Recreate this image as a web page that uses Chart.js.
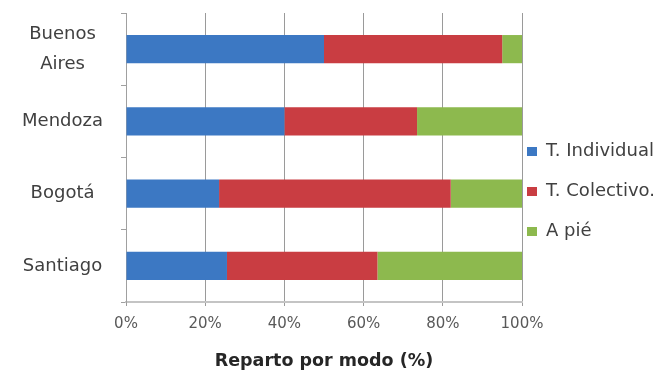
<!DOCTYPE html>
<html>
<head>
<meta charset="utf-8">
<script src="https://cdn.jsdelivr.net/npm/chart.js@4/dist/chart.umd.min.js"></script>
<style>
  html, body { margin: 0; padding: 0; background: #ffffff; }
  #wrap { width: 665px; height: 372px; position: relative; }
</style>
</head>
<body>
<div id="wrap"><canvas id="c"></canvas></div>
<script>
// ---- data ----
const categories = [['Buenos', 'Aires'], 'Mendoza', 'Bogotá', 'Santiago'];
const seriesNames = ['T. Individual', 'T. Colectivo.', 'A pié'];
const individual = [50, 40, 23.5, 25.5];
const colectivo = [45, 33.5, 58.5, 38];
const aPie = [5, 26.5, 18, 36.5];
const xTicks = [0, 20, 40, 60, 80, 100];
const axisTitle = 'Reparto por modo (%)';

const colors = ['#3C78C3', '#C93D42', '#8DB94E'];
const seriesValues = [individual, colectivo, aPie];

const legendShift = {
  id: 'legendShift',
  afterLayout(chart) {
    const l = chart.legend;
    if (!l) return;
    l.left -= 17;
    l.top -= 1; l.bottom -= 1;
  }
};

new Chart(document.getElementById('c'), {
  type: 'bar',
  data: {
    labels: categories,
    datasets: seriesNames.map((name, i) => ({
      label: name,
      data: seriesValues[i],
      backgroundColor: colors[i],
      borderWidth: 0,
      barPercentage: 0.39,
      categoryPercentage: 1
    }))
  },
  options: {
    indexAxis: 'y',
    responsive: true,
    maintainAspectRatio: false,
    animation: false,
    layout: { padding: { top: 13, left: 0, right: 0, bottom: 0 } },
    plugins: {
      legend: {
        position: 'right',
        maxWidth: 143,
        labels: {
          boxWidth: 10,
          boxHeight: 9,
          padding: 22,
          color: '#404040',
          font: { family: 'DejaVu Sans', size: 18 }
        }
      },
      tooltip: { enabled: false }
    },
    scales: {
      x: {
        stacked: true,
        min: 0,
        max: 100,
        afterBuildTicks(scale) { scale.ticks = xTicks.map(v => ({ value: v })); },
        afterFit(scale) { scale.height = 70; },
        grid: { color: '#9a9a9a', tickColor: '#9a9a9a', tickLength: 4, lineWidth: 1 },
        border: { display: true, color: '#c4c4c4', width: 2 },
        ticks: {
          padding: 9,
          color: '#595959',
          font: { family: 'DejaVu Sans', size: 15 },
          callback: v => v + '%'
        },
        title: {
          display: true,
          text: axisTitle,
          color: '#262626',
          font: { family: 'DejaVu Sans', size: 17.5, weight: 'bold' },
          padding: { top: 0, bottom: 0 }
        }
      },
      y: {
        stacked: true,
        afterFit(scale) {
          scale.width = 126;
          scale.paddingTop = 0;
          scale.paddingBottom = 0;
        },
        grid: { drawOnChartArea: false, offset: true, color: '#a0a0a0', tickColor: '#a0a0a0', tickLength: 5 },
        border: { display: true, color: '#a0a0a0', width: 1 },
        ticks: {
          padding: 18,
          crossAlign: 'center',
          color: '#404040',
          font: { family: 'DejaVu Sans', size: 18, lineHeight: 1.65 }
        }
      }
    }
  },
  plugins: [legendShift]
});
</script>
</body>
</html>
